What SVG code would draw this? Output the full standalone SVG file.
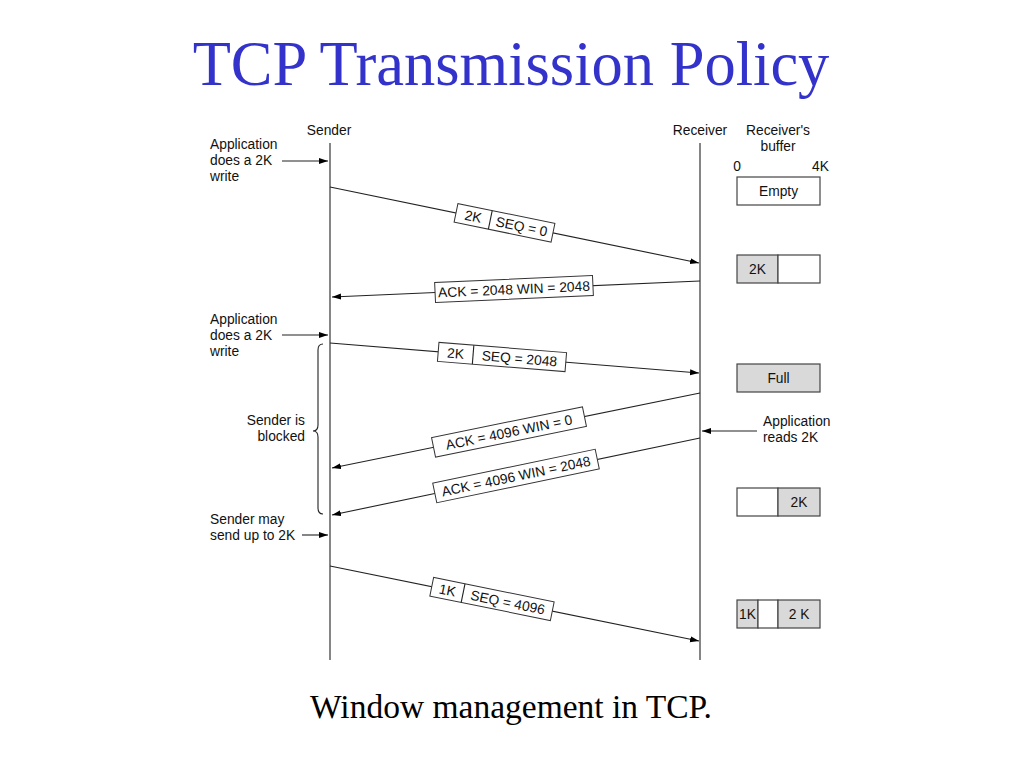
<svg xmlns="http://www.w3.org/2000/svg" width="1024" height="768" viewBox="0 0 1024 768">
<defs>
<marker id="ah" markerWidth="10" markerHeight="8" refX="9" refY="4" orient="auto" markerUnits="userSpaceOnUse">
<path d="M0,1 L9,4 L0,7 Z" fill="#000"/>
</marker>
<style>
.t{font-family:"Liberation Sans",Arial,sans-serif;font-size:13.8px;fill:#111}
.m{text-anchor:middle}
.e{text-anchor:end}
.ln{stroke:#222;stroke-width:1.1;fill:none}
.ar{stroke:#222;stroke-width:1.1;fill:none;marker-end:url(#ah)}
.box{fill:#fff;stroke:#333;stroke-width:1}
.buf{fill:#fff;stroke:#444;stroke-width:1.2}
.g{fill:#d9d9d9;stroke:#444;stroke-width:1.2}
</style>
</defs>
<rect width="1024" height="768" fill="#fff"/>
<text x="511" y="85" text-anchor="middle" font-family="'Liberation Serif','Times New Roman',serif" font-size="62.5" fill="#3333cc">TCP Transmission Policy</text>
<text x="511" y="718" text-anchor="middle" font-family="'Liberation Serif','Times New Roman',serif" font-size="33.5" fill="#000">Window management in TCP.</text>

<g id="headers">
<text class="t m" x="329" y="135">Sender</text>
<text class="t m" x="700" y="135">Receiver</text>
<text class="t m" x="778" y="135">Receiver's</text>
<text class="t m" x="778" y="151">buffer</text>
<text class="t m" x="737" y="171">0</text>
<text class="t e" x="829" y="171">4K</text>
</g>

<g id="timelines">
<line class="ln" x1="330" y1="143" x2="330" y2="660"/>
<line class="ln" x1="700" y1="143" x2="700" y2="660"/>
</g>

<g id="annotations">
<g id="app-write-1">
<text class="t" x="210" y="149">Application</text>
<text class="t" x="210" y="165">does a 2K</text>
<text class="t" x="210" y="181">write</text>
<line class="ar" x1="282" y1="161" x2="328" y2="161"/>
</g>
<g id="app-write-2">
<text class="t" x="210" y="324">Application</text>
<text class="t" x="210" y="340">does a 2K</text>
<text class="t" x="210" y="356">write</text>
<line class="ar" x1="282" y1="335" x2="328" y2="335"/>
</g>
<g id="blocked">
<text class="t e" x="305" y="425">Sender is</text>
<text class="t e" x="305" y="441">blocked</text>
<path class="ln" d="M323,344 Q318,344 318,350 L318,425 Q318,431 313,431 Q318,431 318,437 L318,508 Q318,514 323,514"/>
</g>
<g id="may-send">
<text class="t" x="210" y="524">Sender may</text>
<text class="t" x="210" y="540">send up to 2K</text>
<line class="ar" x1="302" y1="535" x2="328" y2="535"/>
</g>
<g id="app-reads">
<text class="t" x="763" y="426">Application</text>
<text class="t" x="763" y="442">reads 2K</text>
<line class="ar" x1="757" y1="431" x2="702" y2="431"/>
</g>
</g>

<g id="connectors">
<line class="ar" x1="330" y1="187" x2="699" y2="263"/>
<line class="ar" x1="700" y1="281" x2="332" y2="297"/>
<line class="ar" x1="330" y1="343" x2="699" y2="373"/>
<line class="ar" x1="700" y1="393" x2="332" y2="468"/>
<line class="ar" x1="700" y1="438" x2="332" y2="515"/>
<line class="ar" x1="330" y1="566" x2="699" y2="641"/>
</g>

<g id="seg1" transform="translate(504.5,222.8) rotate(11.6)">
<rect class="box" x="-49.5" y="-9.5" width="99" height="19"/>
<line class="ln" x1="-14.5" y1="-9.5" x2="-14.5" y2="9.5"/>
<text class="t m" x="-32" y="5">2K</text>
<text class="t m" x="17.5" y="5">SEQ = 0</text>
</g>
<g id="ack1" transform="translate(514,289) rotate(-2.5)">
<rect class="box" x="-79" y="-10" width="158" height="20"/>
<text class="t m" x="0" y="5">ACK = 2048 WIN = 2048</text>
</g>
<g id="seg2" transform="translate(502,357) rotate(4.6)">
<rect class="box" x="-64" y="-9.5" width="128" height="19"/>
<line class="ln" x1="-29" y1="-9.5" x2="-29" y2="9.5"/>
<text class="t m" x="-46.5" y="5">2K</text>
<text class="t m" x="17.5" y="5">SEQ = 2048</text>
</g>
<g id="ack2" transform="translate(509,432) rotate(-11.5)">
<rect class="box" x="-77" y="-10" width="154" height="20"/>
<text class="t m" x="0" y="5">ACK = 4096 WIN = 0</text>
</g>
<g id="ack3" transform="translate(516,476) rotate(-11.8)">
<rect class="box" x="-83" y="-10" width="166" height="20"/>
<text class="t m" x="0" y="5">ACK = 4096 WIN = 2048</text>
</g>
<g id="seg3" transform="translate(492,599) rotate(11.5)">
<rect class="box" x="-61.5" y="-9.5" width="123" height="19"/>
<line class="ln" x1="-29.5" y1="-9.5" x2="-29.5" y2="9.5"/>
<text class="t m" x="-45.5" y="5">1K</text>
<text class="t m" x="16" y="5">SEQ = 4096</text>
</g>

<g id="buf-empty">
<rect class="buf" x="737" y="177" width="83" height="28"/>
<text class="t m" x="778.5" y="196">Empty</text>
</g>
<g id="buf-2k">
<rect class="g" x="737" y="255" width="41" height="28"/>
<rect class="buf" x="778" y="255" width="42" height="28"/>
<text class="t m" x="757.5" y="274">2K</text>
</g>
<g id="buf-full">
<rect class="g" x="737" y="364" width="83" height="28"/>
<text class="t m" x="778.5" y="383">Full</text>
</g>
<g id="buf-2k-right">
<rect class="buf" x="737" y="488" width="41" height="28"/>
<rect class="g" x="778" y="488" width="42" height="28"/>
<text class="t m" x="799" y="507">2K</text>
</g>
<g id="buf-last">
<rect class="g" x="737" y="600" width="21" height="28"/>
<rect class="buf" x="758" y="600" width="20" height="28"/>
<rect class="g" x="778" y="600" width="42" height="28"/>
<text class="t m" x="747.5" y="619">1K</text>
<text class="t m" x="799" y="619">2 K</text>
</g>
</svg>
